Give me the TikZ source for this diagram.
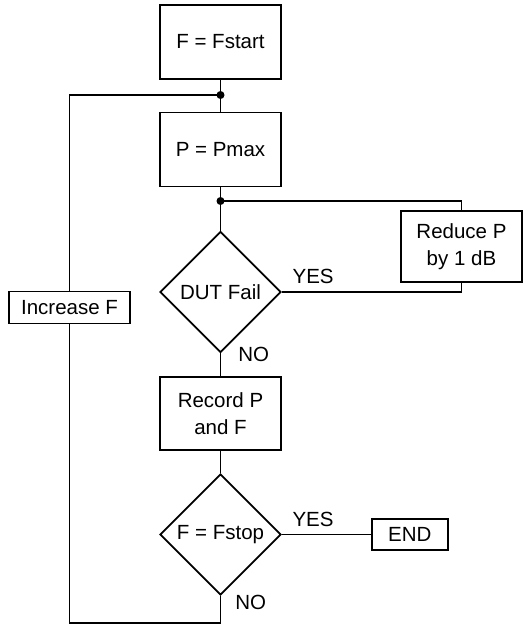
\documentclass[tikz,border=0pt]{standalone}
\usepackage{fontspec}
\setmainfont{Liberation Sans}
\usetikzlibrary{shapes.geometric, positioning}

\begin{document}
\begin{tikzpicture}[
    x=1pt, y=1pt,
    line width=1.8pt,
    every node/.style={font=\fontsize{20.5}{27}\selectfont, inner sep=1pt}, % one text size everywhere
    box/.style={draw, rectangle, minimum width=121pt, minimum height=74pt, align=center},
    test/.style={draw, diamond, aspect=1, minimum size=121pt, inner sep=0pt}
]
\useasboundingbox (0,0) rectangle (525,-625);
% draw the blocks
\node[box] (start) at (220.5,-42) {F = Fstart};
\node[box] (pmax) at (220.5,-149.5) {P = Pmax};
\node[test] (fail) at (220.5,-292) {DUT Fail};
\node[box, minimum height=73pt] (record) at (220.5,-413.3) {Record P\\and F};
\node[test] (stop) at (220.5,-534.5) {F = Fstop};
\node[box, minimum width=76pt, minimum height=31pt] (end) [right=89pt of stop] {END};
\node[box, minimum height=71pt] (reduce) at (461.5,-246.2) {Reduce P\\by 1 dB};
\node[box, minimum height=32pt] (increase) at (69.5,-307.5) {Increase F};
% the branch points
\coordinate (j1) at (220.5,-95);
\coordinate (j2) at (220.5,-201);
\coordinate (bot) at (220.5,-623);
% draw the lines
\draw (start) -- (pmax);
\draw (pmax) -- (fail);
\draw (fail) -- node[pos=0.04, right=16pt] {NO} (record);
\draw (record) -- (stop);
\draw (stop) -- node[pos=0.35, above=6pt] {YES} (end);
\draw (j2) -| (reduce.north);
\draw (fail.east) -| node[pos=0.087, above=6pt] {YES} (reduce.south);
\draw (j1) -| (increase.north);
\draw (stop.south) -- node[pos=0.25, right=13pt] {NO} (bot) -| (increase.south);
\fill (j1) circle (4pt) (j2) circle (4pt); % note the dots
\end{tikzpicture}
\end{document}
